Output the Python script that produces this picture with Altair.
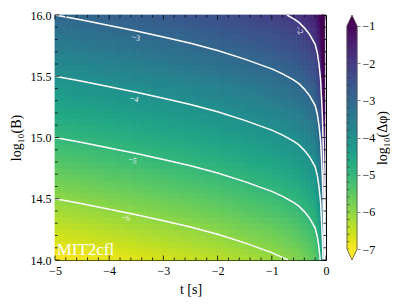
import altair as alt
import pandas as pd

alt.data_transformers.disable_max_rows()

# ---------------- data ----------------
# log10(dphi) along the left edge (t = -5) at each log10(B) row centre (14.025 ... 15.975)
v_left = [-6.95, -6.85, -6.75, -6.65, -6.55, -6.45, -6.35, -6.25, -6.15, -6.05,
          -5.95, -5.85, -5.75, -5.65, -5.55, -5.45, -5.35, -5.25, -5.15, -5.05,
          -4.95, -4.85, -4.75, -4.65, -4.55, -4.45, -4.35, -4.25, -4.15, -4.05,
          -3.95, -3.85, -3.75, -3.65, -3.55, -3.45, -3.35, -3.25, -3.15, -3.05]
# rise of log10(dphi) relative to t = -5, per t column
h_coarse = [0.01, 0.02, 0.04, 0.06, 0.07, 0.09, 0.11, 0.12, 0.14, 0.16,
            0.18, 0.20, 0.21, 0.23, 0.25, 0.27, 0.29, 0.31, 0.33, 0.35,
            0.37, 0.39, 0.41, 0.43, 0.45, 0.47, 0.50, 0.52, 0.54, 0.57,
            0.59, 0.62, 0.65, 0.68, 0.71, 0.74, 0.77, 0.80, 0.83, 0.86]   # t -5 .. -1, step 0.1
h_mid = [0.89, 0.91, 0.93, 0.95, 0.97, 1.00, 1.02, 1.05,
         1.07, 1.10, 1.14, 1.19, 1.24, 1.29, 1.36, 1.43]                  # t -1 .. -0.2, step 0.05
h_fine = [1.50, 1.53, 1.57, 1.60, 1.65, 1.70, 1.77, 1.84, 1.92,
          2.01, 2.12, 2.30, 2.49, 2.70, 2.98, 3.32, 3.75]                 # t -0.2 .. -0.03, step 0.01

# contour lines (t, log10 B)
contours = {
    -6: ([-5, -4.5, -4, -3.5, -3, -2.5, -2, -1.5, -1, -0.85, -0.7],
         [14.5, 14.46, 14.415, 14.37, 14.32, 14.27, 14.21, 14.14, 14.06, 14.03, 14.0]),
    -5: ([-5, -4.5, -4, -3.5, -3, -2.5, -2, -1.5, -1, -0.8, -0.6, -0.5, -0.4, -0.3, -0.2, -0.16, -0.13, -0.106],
         [15.0, 14.96, 14.915, 14.87, 14.82, 14.77, 14.71, 14.64, 14.56, 14.52, 14.47, 14.44, 14.395, 14.34, 14.26, 14.19, 14.1, 14.0]),
    -4: ([-5, -4.5, -4, -3.5, -3, -2.5, -2, -1.5, -1, -0.8, -0.6, -0.5, -0.4, -0.3, -0.2, -0.16, -0.13, -0.1, -0.08, -0.065, -0.055],
         [15.5, 15.46, 15.415, 15.37, 15.32, 15.27, 15.21, 15.14, 15.06, 15.02, 14.97, 14.94, 14.895, 14.84, 14.76, 14.69, 14.6, 14.475, 14.3, 14.15, 14.0]),
    -3: ([-5, -4.5, -4, -3.5, -3, -2.5, -2, -1.5, -1, -0.8, -0.6, -0.5, -0.4, -0.3, -0.2, -0.16, -0.13, -0.1, -0.08, -0.065, -0.055, -0.04, -0.03],
         [16.0, 15.96, 15.915, 15.87, 15.82, 15.77, 15.71, 15.64, 15.56, 15.52, 15.47, 15.44, 15.395, 15.34, 15.26, 15.19, 15.1, 14.975, 14.8, 14.65, 14.5, 14.25, 14.0]),
    -2: ([-0.72, -0.6, -0.5, -0.4, -0.3, -0.2, -0.16, -0.13, -0.1, -0.08, -0.065, -0.055, -0.04, -0.03, -0.02, -0.015],
         [16.0, 15.97, 15.94, 15.895, 15.84, 15.76, 15.69, 15.6, 15.475, 15.3, 15.15, 15.0, 14.75, 14.5, 14.2, 14.0]),
}

# contour labels
lab_text = ["−2", "−3", "−4", "−5", "−6"]
lab_t = [-0.50, -3.51, -3.54, -3.57, -3.70]
lab_y = [15.875, 15.81, 15.31, 14.81, 14.34]
lab_angle = [60, 12, 12, 12, 12]

# annotation
ann_text = ["MIT2cfl"]
ann_t = [-4.97]
ann_y = [14.0]

# ticks
x_major = [-5, -4, -3, -2, -1, 0]
y_major = [14.0, 14.5, 15.0, 15.5, 16.0]
cb_major = [-1, -2, -3, -4, -5, -6, -7]
x_minor = [round(-5 + 0.2 * i, 2) for i in range(26) if i % 5]
y_minor = [round(14 + 0.1 * i, 2) for i in range(21) if i % 5]
cb_minor = [round(-7 + 0.2 * i, 2) for i in range(31)]
cb_min, cb_max = -7.0, -1.0
t_min, t_max = -5.0, 0.0
b_min, b_max = 14.0, 16.0

# ---------------- tables ----------------
t_edges = ([round(-5 + 0.1 * i, 3) for i in range(41)],
           [round(-1 + 0.05 * i, 3) for i in range(17)],
           [round(-0.2 + 0.01 * i, 3) for i in range(18)])
h_sets = (h_coarse, h_mid, h_fine)
b_edges = [round(14 + 0.05 * i, 3) for i in range(41)]

rows = []
for edges, hs in zip(t_edges, h_sets):
    for t0, t1, h in zip(edges[:-1], edges[1:], hs):
        for b0, b1, v in zip(b_edges[:-1], b_edges[1:], v_left):
            rows.append({"t0": t0, "t1": t1, "b0": b0, "b1": b1, "v": round(v + h, 3)})
cells = pd.DataFrame(rows)

crow = []
for lev, (ts, ys_) in contours.items():
    for i, (t, y) in enumerate(zip(ts, ys_)):
        crow.append({"level": lev, "i": i, "t": t, "b": y})
cdf = pd.DataFrame(crow)

labels = pd.DataFrame({"text": lab_text, "t": lab_t, "b": lab_y, "angle": lab_angle})
ann = pd.DataFrame({"text": ann_text, "t": ann_t, "b": ann_y})

W, H = 271, 245
FONT = "Liberation Serif"
xs = alt.Scale(domain=[t_min, t_max], nice=False, zero=False)
ys = alt.Scale(domain=[b_min, b_max], nice=False, zero=False)
cs = alt.Scale(scheme="viridis", reverse=True, domain=[cb_min, cb_max], clamp=True)

AX = alt.Axis(values=x_major, format="d", title="t [s]", ticks=False, domain=False, grid=False,
              labelPadding=5, titlePadding=6, labelFlush=False)
AY = alt.Axis(values=y_major, format=".1f", title="log₁₀(B)", ticks=False, domain=False, grid=False,
              labelPadding=4, titlePadding=7, labelFlush=False)


def X(f):
    return alt.X(f, scale=xs, axis=AX, title="t [s]")


def Y(f):
    return alt.Y(f, scale=ys, axis=AY, title="log₁₀(B)")


heat = alt.Chart(cells).mark_rect(strokeWidth=0.8).encode(
    x=X("t0:Q"), x2="t1:Q", y=Y("b0:Q"), y2="b1:Q",
    color=alt.Color("v:Q", scale=cs, legend=None),
    stroke=alt.Stroke("v:Q", scale=cs, legend=None),
)

lines = alt.Chart(cdf).mark_line(color="white", strokeWidth=1.5, clip=True).encode(
    x=X("t:Q"), y=Y("b:Q"), detail="level:N", order="i:Q",
)

clabels = alt.Chart(labels).mark_text(font=FONT, fontSize=8, color="#f0f0f0").encode(
    x=X("t:Q"), y=Y("b:Q"), text="text:N", angle=alt.Angle("angle:Q", scale=None),
)

annot = alt.Chart(ann).mark_text(font=FONT, fontSize=17, color="white", align="left",
                                 baseline="bottom", dy=-1).encode(
    x=X("t:Q"), y=Y("b:Q"), text="text:N",
)


def xticks(vals, length):
    base = alt.Chart(pd.DataFrame({"t": vals}))
    bot = base.mark_rule(color="black", strokeWidth=0.8).encode(
        x=X("t:Q"), y=alt.value(H), y2=alt.value(H - length))
    top = base.mark_rule(color="black", strokeWidth=0.8).encode(
        x=X("t:Q"), y=alt.value(0), y2=alt.value(length))
    return [bot, top]


def yticks(vals, length):
    base = alt.Chart(pd.DataFrame({"b": vals}))
    left = base.mark_rule(color="black", strokeWidth=0.8).encode(
        y=Y("b:Q"), x=alt.value(0), x2=alt.value(length))
    right = base.mark_rule(color="black", strokeWidth=0.8).encode(
        y=Y("b:Q"), x=alt.value(W), x2=alt.value(W - length))
    return [left, right]


tick_layers = xticks(x_major, 4.5) + xticks(x_minor, 2.5) + yticks(y_major, 4.5) + yticks(y_minor, 2.5)

main = alt.layer(heat, lines, clabels, annot, *tick_layers).properties(
    width=W, height=H,
    view=alt.ViewBackground(fill="#cfcfcf", stroke="black", strokeWidth=1),
)

# ---------------- colour bar ----------------
cb_step = 0.05
cb_edges = [round(cb_min + cb_step * i, 3) for i in range(121)]
cbcells = pd.DataFrame({"y0": cb_edges[:-1], "y1": cb_edges[1:],
                        "v": [round((a + b) / 2, 3) for a, b in zip(cb_edges[:-1], cb_edges[1:])],
                        "x0": 0.0, "x1": 1.0})
ext = 0.29
cbs = alt.Scale(domain=[cb_min - ext, cb_max + ext], nice=False, zero=False)
cbx = alt.Scale(domain=[0, 1], nice=False, zero=False)
ACB = alt.Axis(orient="right", values=cb_major, format="d", title="log₁₀(Δφ)", titleAngle=270,
               titleBaseline="top", tickSize=3, domain=False, grid=False, labelPadding=2,
               titlePadding=1, labelFlush=False)


def CY(f):
    return alt.Y(f, scale=cbs, axis=ACB, title="log₁₀(Δφ)")


CB_W = 10
cb_rect = alt.Chart(cbcells).mark_rect(strokeWidth=0.8).encode(
    x=alt.X("x0:Q", scale=cbx, axis=None), x2="x1:Q",
    y=CY("y0:Q"), y2="y1:Q",
    color=alt.Color("v:Q", scale=cs, legend=None),
    stroke=alt.Stroke("v:Q", scale=cs, legend=None),
)

cb_ticks = alt.Chart(pd.DataFrame({"y": cb_minor})).mark_rule(color="#333333", strokeWidth=0.7).encode(
    y=CY("y:Q"), x=alt.value(0), x2=alt.value(2.5))

tri = pd.DataFrame({"x": [0.5, 0.5], "y": [cb_max + ext / 2, cb_min - ext / 2],
                    "v": [cb_max + 0.1, cb_min - 0.1], "dir": ["up", "down"]})
tri_h = ext * H / (cb_max - cb_min + 2 * ext)
tri_up = alt.Chart(tri[tri.dir == "up"]).mark_point(
    shape="M-0.93,1L0,-1L0.93,1Z", filled=True, opacity=1, size=tri_h ** 2).encode(
    x=alt.X("x:Q", scale=cbx, axis=None), y=CY("y:Q"),
    color=alt.Color("v:Q", scale=cs, legend=None))
tri_dn = alt.Chart(tri[tri.dir == "down"]).mark_point(
    shape="M-0.93,-1L0,1L0.93,-1Z", filled=True, opacity=1, size=tri_h ** 2).encode(
    x=alt.X("x:Q", scale=cbx, axis=None), y=CY("y:Q"),
    color=alt.Color("v:Q", scale=cs, legend=None))

outline = pd.DataFrame({"x": [0.5, 1, 1, 0.5, 0, 0, 0.5],
                        "y": [cb_max + ext, cb_max, cb_min, cb_min - ext, cb_min, cb_max, cb_max + ext],
                        "i": list(range(7))})
cb_out = alt.Chart(outline).mark_line(color="#555555", strokeWidth=0.8).encode(
    x=alt.X("x:Q", scale=cbx, axis=None), y=CY("y:Q"), order="i:Q")

cbar = alt.layer(cb_rect, cb_ticks, tri_up, tri_dn, cb_out).properties(width=CB_W, height=H)

chart = alt.hconcat(main, cbar, spacing=15).properties(padding=0).configure_view(
    strokeWidth=0
).configure_axis(
    labelFont=FONT, titleFont=FONT, labelFontSize=12, titleFontSize=14,
    titleFontWeight="normal", labelColor="black", titleColor="black",
)

chart.save("out.html", embed_options={"renderer": "svg", "actions": False})
